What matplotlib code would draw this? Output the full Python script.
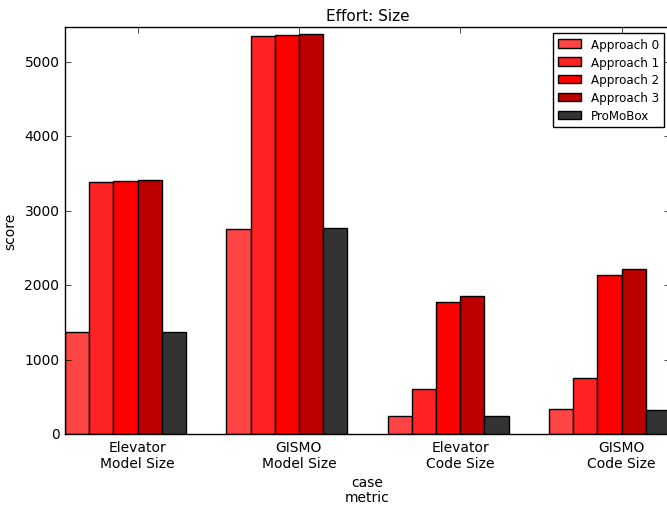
import numpy as np
import matplotlib
matplotlib.use('Agg')
import matplotlib.pyplot as plt

plt.style.use('classic')

cases = ['Elevator\nModel Size', 'GISMO\nModel Size', 'Elevator\nCode Size', 'GISMO\nCode Size']
series = ['Approach 0', 'Approach 1', 'Approach 2', 'Approach 3', 'ProMoBox']
approach0 = [1371, 2755, 242, 336]
approach1 = [3391, 5349, 609, 753]
approach2 = [3398, 5363, 1770, 2137]
approach3 = [3408, 5376, 1855, 2222]
promobox = [1371, 2769, 242, 323]
colors = ['#ff4444', '#ff2222', '#ff0000', '#bb0000', '#333333']

values = [approach0, approach1, approach2, approach3, promobox]

fig = plt.figure(figsize=(6.67, 5.06), dpi=100)
ax = fig.add_axes([65 / 667, 71 / 506, 605 / 667, 407 / 506])

x = np.arange(len(cases))
w = 0.15
for j, (name, vals) in enumerate(zip(series, values)):
    ax.bar(x - 0.45 + j * w, vals, width=w, align='edge', color=colors[j],
           edgecolor='black', linewidth=1, label=name)

ax.set_xticks(x)
ax.set_xticklabels(cases, fontsize=10)
ax.set_xlim(-0.45, 3.3)
ax.set_ylim(0, 5470)
ax.set_yticks([0, 1000, 2000, 3000, 4000, 5000])
ax.tick_params(axis='y', labelsize=10)
ax.set_xlabel('case\nmetric', fontsize=10, labelpad=4, linespacing=1.05)
ax.set_ylabel('score', fontsize=10)
ax.set_title('Effort: Size', fontsize=11)
ax.legend(loc='upper right', fontsize=8.6, borderaxespad=0.5, labelspacing=0.4)

fig.savefig('out.png', dpi=100)
